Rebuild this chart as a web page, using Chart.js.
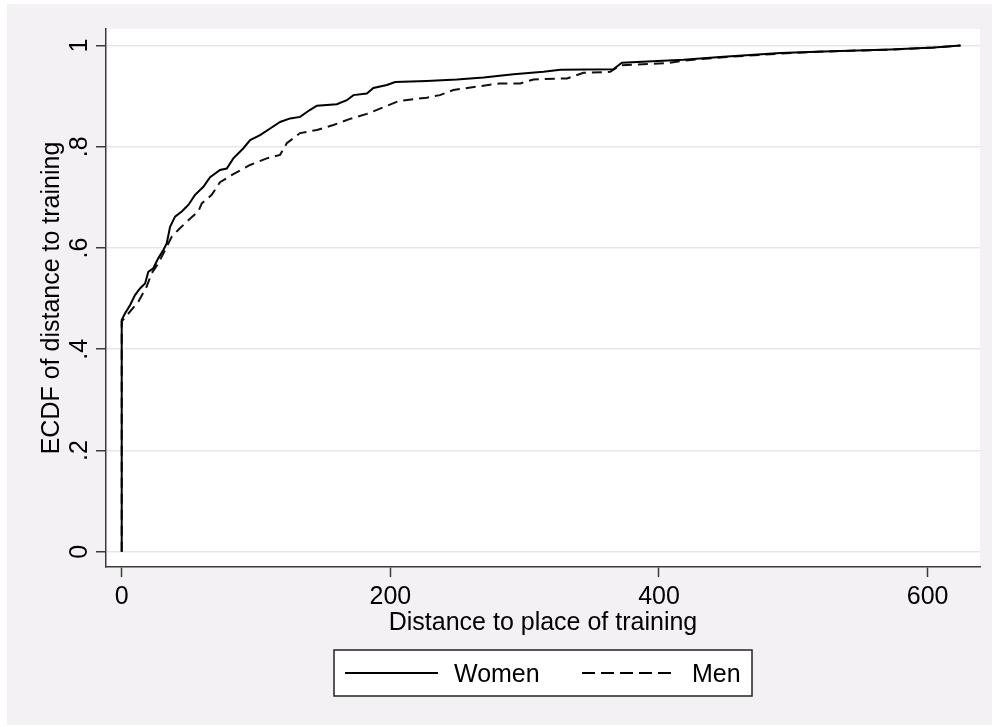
<!DOCTYPE html>
<html><head><meta charset="utf-8">
<script src="https://cdn.jsdelivr.net/npm/chart.js@4"></script>
<style>html,body{margin:0;padding:0;background:#fff;overflow:hidden}#c{position:absolute;left:0;top:0}</style>
</head><body>
<canvas id="c" width="994" height="727"></canvas>
<script>
// ---- data ----
const womenX = [0, 0, 2.5, 6.2, 9.9, 13.6, 17.4, 19.8, 23.5, 27.3, 31, 33.5, 36, 39.7, 44.7, 49.6, 54.6, 60.8, 65.8, 73.2, 78.2, 83.1, 90.6, 95.6, 103, 110.5, 117.9, 125.4, 132.8, 140.3, 145.3, 160.1, 167.6, 172.5, 182.5, 187.4, 197.4, 203.6, 227, 249.5, 269.4, 291.7, 314, 326.5, 366, 372.4, 418.3, 448, 490.4, 522.6, 572.3, 604.6, 624.5];
const womenY = [0, 0.458, 0.471, 0.487, 0.507, 0.520, 0.530, 0.553, 0.560, 0.580, 0.596, 0.609, 0.642, 0.662, 0.672, 0.685, 0.705, 0.721, 0.740, 0.754, 0.757, 0.777, 0.797, 0.813, 0.823, 0.836, 0.849, 0.856, 0.859, 0.873, 0.881, 0.884, 0.892, 0.902, 0.905, 0.916, 0.922, 0.928, 0.930, 0.933, 0.937, 0.943, 0.948, 0.952, 0.953, 0.966, 0.972, 0.978, 0.985, 0.988, 0.992, 0.996, 1.0];
const menX = [0, 0, 12.4, 18.6, 22.3, 27.3, 32.3, 37.2, 42.2, 49.6, 57, 59.6, 67, 73.2, 83.1, 95.6, 108, 117.9, 122.9, 132.8, 145.3, 157.6, 170, 182.5, 194.9, 206, 227, 236.9, 246.9, 264.4, 281.8, 296.7, 306.6, 331.5, 343.8, 363.7, 371.2, 406, 418.3, 448, 490.4, 522.6, 572.3, 604.6, 624.5];
const menY = [0, 0.455, 0.494, 0.524, 0.550, 0.570, 0.596, 0.622, 0.636, 0.655, 0.672, 0.688, 0.705, 0.730, 0.746, 0.764, 0.777, 0.784, 0.807, 0.827, 0.833, 0.843, 0.855, 0.865, 0.878, 0.890, 0.897, 0.902, 0.912, 0.919, 0.925, 0.925, 0.933, 0.935, 0.946, 0.948, 0.961, 0.965, 0.970, 0.977, 0.984, 0.988, 0.992, 0.996, 1.0];
const xTicks = [0, 200, 400, 600];
const yTicks = [0, 0.2, 0.4, 0.6, 0.8, 1];
const yTickLabels = ['0', '.2', '.4', '.6', '.8', '1'];
const seriesNames = ['Women', 'Men'];
const xTitle = 'Distance to place of training';
const yTitle = 'ECDF of distance to training';

// ---- styling ----
const FONT = '"Liberation Sans", Arial, sans-serif';
const BG = '#F4F1F4';
const GRID = '#EBE5EB';
const AXIS = '#3a3a3a';
Chart.defaults.font.family = FONT;

const pts = (xs, ys) => xs.map((x, i) => ({x: x, y: ys[i]}));

const decor = {
  id: 'decor',
  beforeDraw(chart) {
    const ctx = chart.ctx, a = chart.chartArea;
    ctx.save();
    ctx.fillStyle = '#fff';
    ctx.fillRect(0, 0, chart.width, chart.height);
    ctx.fillStyle = BG;
    ctx.fillRect(7, 4, 985, 721);
    ctx.fillStyle = '#fff';
    ctx.fillRect(a.left, a.top, a.right - a.left, a.bottom - a.top);
    ctx.restore();
  },
  afterDraw(chart) {
    const ctx = chart.ctx, a = chart.chartArea, ys = chart.scales.y;
    ctx.save();
    ctx.fillStyle = '#000';
    ctx.font = '25px ' + FONT;
    // y tick labels (rotated)
    ctx.textAlign = 'center';
    ctx.textBaseline = 'middle';
    yTicks.forEach((v, i) => {
      const py = ys.getPixelForValue(v);
      ctx.save();
      ctx.translate(80, py);
      ctx.rotate(-Math.PI / 2);
      ctx.fillText(yTickLabels[i], 0, 0);
      ctx.restore();
    });
    // y title
    ctx.save();
    ctx.translate(52, (a.top + a.bottom) / 2);
    ctx.rotate(-Math.PI / 2);
    ctx.fillText(yTitle, 0, 0);
    ctx.restore();
    // x title
    ctx.textBaseline = 'alphabetic';
    ctx.fillText(xTitle, (a.left + a.right) / 2, 630);
    // legend
    ctx.fillStyle = '#fff';
    ctx.fillRect(334, 650, 418, 46);
    ctx.strokeStyle = '#222';
    ctx.lineWidth = 1.5;
    ctx.strokeRect(334, 650, 418, 46);
    ctx.strokeStyle = '#000';
    ctx.lineWidth = 2;
    ctx.beginPath(); ctx.moveTo(345, 673); ctx.lineTo(438, 673); ctx.stroke();
    ctx.setLineDash([13, 6]);
    ctx.beginPath(); ctx.moveTo(582, 673); ctx.lineTo(677, 673); ctx.stroke();
    ctx.setLineDash([]);
    ctx.fillStyle = '#000';
    ctx.textAlign = 'left';
    ctx.textBaseline = 'middle';
    ctx.fillText(seriesNames[0], 454, 675);
    ctx.fillText(seriesNames[1], 692, 675);
    ctx.restore();
  }
};

new Chart(document.getElementById('c'), {
  type: 'line',
  data: {
    datasets: [
      {label: seriesNames[0], data: pts(womenX, womenY), borderColor: '#000', borderWidth: 2, pointRadius: 0, fill: false, tension: 0},
      {label: seriesNames[1], data: pts(menX, menY), borderColor: '#111', borderWidth: 2, borderDash: [10, 6], pointRadius: 0, fill: false, tension: 0}
    ]
  },
  options: {
    responsive: false,
    animation: false,
    devicePixelRatio: 1,
    layout: {padding: {left: 0, top: 29, right: 14, bottom: 0}},
    plugins: {legend: {display: false}, tooltip: {enabled: false}},
    scales: {
      x: {
        type: 'linear', min: -11.7, max: 639,
        afterBuildTicks: s => { s.ticks = xTicks.map(v => ({value: v})); },
        afterFit: s => { s.height = 160; },
        grid: {drawOnChartArea: false, drawTicks: true, tickLength: 10, tickColor: AXIS, tickWidth: 1.5},
        border: {display: true, color: AXIS, width: 1.5},
        ticks: {font: {size: 25}, color: '#000', padding: 5, maxRotation: 0, autoSkip: false}
      },
      y: {
        type: 'linear', min: -0.0302, max: 1.0326,
        afterBuildTicks: s => { s.ticks = yTicks.map(v => ({value: v})); },
        afterFit: s => { s.width = 106; },
        grid: {color: GRID, lineWidth: 1.5, drawTicks: true, tickLength: 10, tickColor: AXIS, tickWidth: 1.5},
        border: {display: true, color: AXIS, width: 1.5},
        ticks: {font: {size: 25}, color: 'rgba(0,0,0,0)', autoSkip: false}
      }
    }
  },
  plugins: [decor]
});
</script>
</body></html>
